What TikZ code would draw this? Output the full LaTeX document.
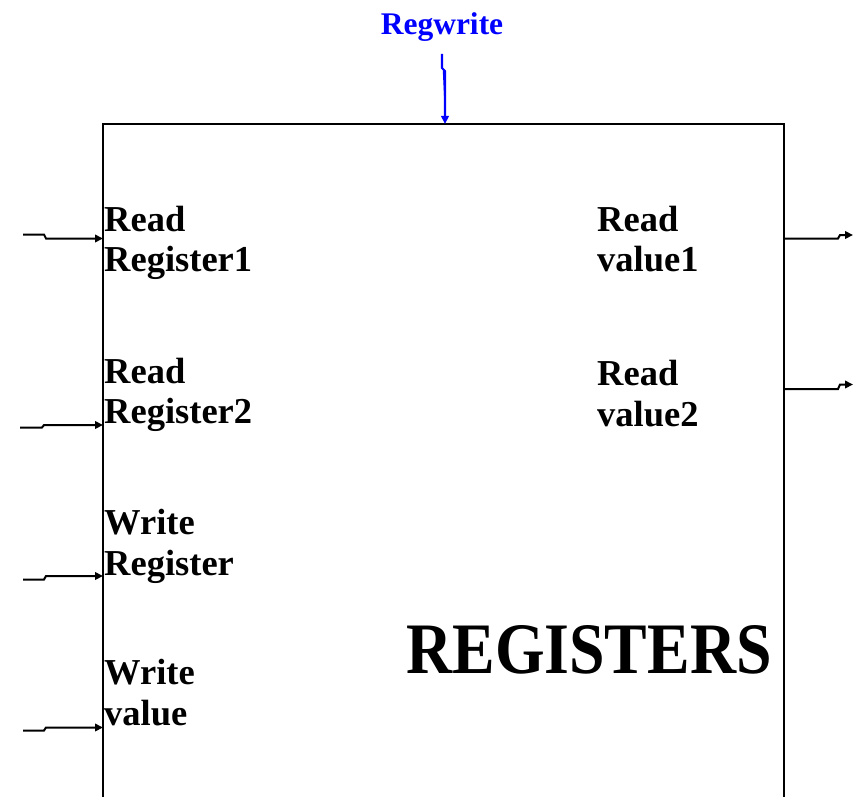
\documentclass[tikz,border=0pt]{standalone}
\usepackage{fontspec}
\setmainfont{Liberation Serif}
\usetikzlibrary{arrows.meta}
\definecolor{ctlblue}{RGB}{0,0,255}
\begin{document}
\begin{tikzpicture}[x=1pt,y=-1pt,
  wire/.style={line width=2pt,-{Triangle[length=8pt,width=7.5pt]}},
  ctlwire/.style={wire,draw=ctlblue,fill=ctlblue,line width=2.1pt},
  frame/.style={line width=2.2pt},
  lbl/.style={anchor=base west,inner sep=0pt,align=left,
    font=\fontsize{36.5}{40.5}\selectfont\bfseries},
  ttl/.style={anchor=base,inner sep=0pt,
    font=\fontsize{72.5}{80}\selectfont\bfseries}]
\useasboundingbox (0,0) rectangle (856,797);
\clip (0,0) rectangle (856,797);

% register file block (runs off the lower edge)
\coordinate (tl) at (103,124);
\coordinate (tr) at (784,124);
\coordinate (bl) at (103,805);
\coordinate (br) at (784,805);
\draw[frame] (bl) -- (tl) -- (tr) -- (br);

% port labels (anchored on the baseline of the second line)
\node[lbl] (rr1) at (104,271.5) {Read\\Register1};
\node[lbl] (rr2) at (104,423.5) {Read\\Register2};
\node[lbl] (wr)  at (104,575) {Write\\Register};
\node[lbl] (wv)  at (104,725) {Write\\value};
\node[lbl] (rv1) at (597,271.5) {Read\\value1};
\node[lbl] (rv2) at (597,426) {Read\\value2};
\node[ttl] (title) at (589,673) {\scalebox{0.88}[1]{REGISTERS}};

% control input
\node[anchor=base,inner sep=0pt,text=ctlblue,
  font=\fontsize{31.5}{35}\selectfont\bfseries] (rw) at (442,35) {Regwrite};
\coordinate (rwsrc) at (442,54);
\coordinate (rwin) at (445,124);
\draw[ctlwire] (rwsrc) -- ++(0,14) -- ++(3,3) -- (rwin);

% data inputs
\coordinate (in1s) at (23,234.5);  \coordinate (in1e) at (103,238.5);
\coordinate (in2s) at (20,427.5);  \coordinate (in2e) at (103,425);
\coordinate (in3s) at (23,579.5);  \coordinate (in3e) at (103,576);
\coordinate (in4s) at (23,730.5);  \coordinate (in4e) at (103,727.5);
\draw[wire] (in1s) -- (44,234.5) -- (46,238.5) -- (in1e);
\draw[wire] (in2s) -- (42,427.5) -- (44,425) -- (in2e);
\draw[wire] (in3s) -- (44,579.5) -- (46,576) -- (in3e);
\draw[wire] (in4s) -- (44,730.5) -- (46,727.5) -- (in4e);

% data outputs
\coordinate (out1s) at (784,238.5); \coordinate (out1e) at (853,235);
\coordinate (out2s) at (784,389);   \coordinate (out2e) at (853,384.5);
\draw[wire] (out1s) -- (838,238.5) -- (840,235) -- (out1e);
\draw[wire] (out2s) -- (838,389) -- (840,384.5) -- (out2e);
\end{tikzpicture}
\end{document}
